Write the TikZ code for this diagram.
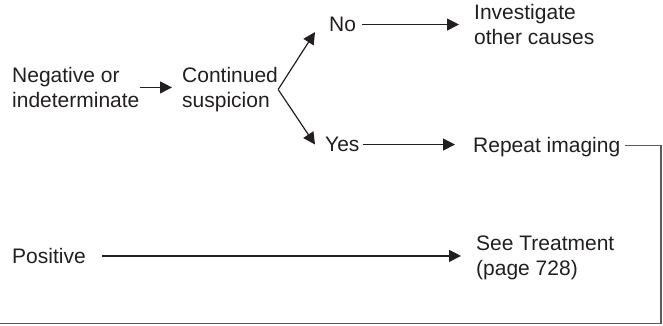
\documentclass[tikz,border=0pt]{standalone}
\usepackage{fontspec}
\setmainfont{Liberation Sans}
\usetikzlibrary{arrows.meta}
\definecolor{ink}{HTML}{231F20}
\definecolor{rule}{HTML}{5A5A5A}
\begin{document}
\begin{tikzpicture}[x=1pt,y=-1pt,
  lbl/.style={inner sep=0pt, align=left, anchor=north west, text=ink,
    font=\fontsize{21}{25}\selectfont},
  arr/.style={draw=ink, line width=1.2pt, -{Triangle[length=12pt,width=12pt]}},
  link/.style={draw=rule, line width=1.1pt}]
\useasboundingbox (0,0) rectangle (663,325);

% labels
\node[lbl] (neg)  at (12,67)  {Negative or\\indeterminate};
\node[lbl] (cont) at (182,67) {Continued\\suspicion};
\node[lbl] (no)   at (329,17) {No};
\node[lbl] (inv)  at (474,4)  {Investigate\\other causes};
\node[lbl] (yes)  at (325,137) {Yes};
\node[lbl] (rep)  at (473,137) {Repeat imaging};
\node[lbl] (pos)  at (12,248) {Positive};
\node[lbl] (see)  at (476,236) {See Treatment\\(page 728)};

% connectors
\draw[arr] (neg.east) -- ([xshift=-10pt]neg.east -| cont.west);
\draw[arr] (cont.east) -- ([xshift=-14pt]no.south west);
\draw[arr] (cont.east) -- ([xshift=-10pt]yes.west);
\draw[arr] ([xshift=6pt]no.east) -- ([xshift=-15pt]no.east -| inv.west);
\draw[arr] ([xshift=3pt]yes.east) -- ([xshift=-18pt]yes.east -| rep.west);
\draw[arr] ([xshift=16pt]pos.east) -- ([xshift=-15pt]pos.east -| see.west);

% loop back from repeat imaging along the right and bottom edges
\coordinate (corner) at (661,323.5);
\coordinate (edge) at (0,323.5);
\draw[link] ([xshift=4pt,yshift=1.5pt]rep.east) -| (corner) -- (edge);
\end{tikzpicture}
\end{document}
